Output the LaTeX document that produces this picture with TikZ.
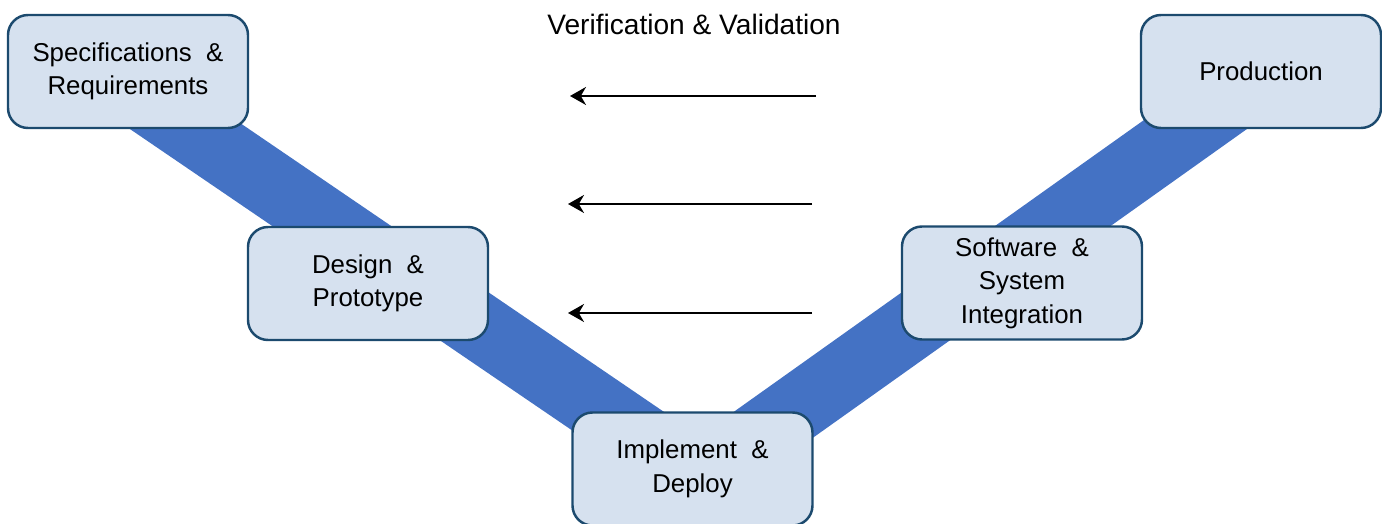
\documentclass[tikz,border=0pt]{standalone}
\usepackage{fontspec}
\setmainfont{Liberation Sans}
\usetikzlibrary{arrows.meta,backgrounds}
\definecolor{boxfill}{HTML}{D6E1EF}
\definecolor{boxline}{HTML}{1C4A6E}
\definecolor{bandblue}{HTML}{4472C4}
\begin{document}
\begin{tikzpicture}[
      font=\fontsize{14.7}{19}\selectfont,
      stage/.style={draw=boxline, fill=boxfill, line width=1.4pt,
          rounded corners=0.4cm, minimum width=4.8cm, minimum height=2.26cm,
          align=center},
      band/.style={bandblue, line width=1.34cm},
      back/.style={-{Stealth[length=0.32cm,width=0.36cm]}, line width=1.2pt}
    ]
    \useasboundingbox (0,0) rectangle (27.64,10.48);

    \node[stage] (1) at (2.56,9.05) {Specifications\ \ \&\\Requirements};
    \node[stage] (2) at (7.36,4.81) {Design\ \ \&\\Prototype};
    \node[stage] (3) at (13.85,1.10) {Implement\ \ \&\\Deploy};
    \node[stage] (4) at (20.44,4.82) {Software\ \ \&\\System\\Integration};
    \node[stage] (5) at (25.22,9.05) {Production};

    \begin{scope}[on background layer]
      \draw[band] ([xshift=-0.46cm]1.center) -- ([shift={(0.15,-0.16)}]3.center)
      -- ([xshift=0.18cm]5.center);
    \end{scope}

    \node[font=\fontsize{16}{19}\selectfont] (t) at (13.88,10.0)
    {Verification\ \&\ Validation};

    \coordinate (a1) at (16.32,8.56);
    \coordinate (b1) at (11.40,8.56);
    \coordinate (a2) at (16.24,6.40);
    \coordinate (b2) at (11.36,6.40);
    \coordinate (a3) at (16.24,4.22);
    \coordinate (b3) at (11.36,4.22);
    \foreach \i in {1,2,3} \draw[back] (a\i) -- (b\i);
  \end{tikzpicture}
\end{document}
